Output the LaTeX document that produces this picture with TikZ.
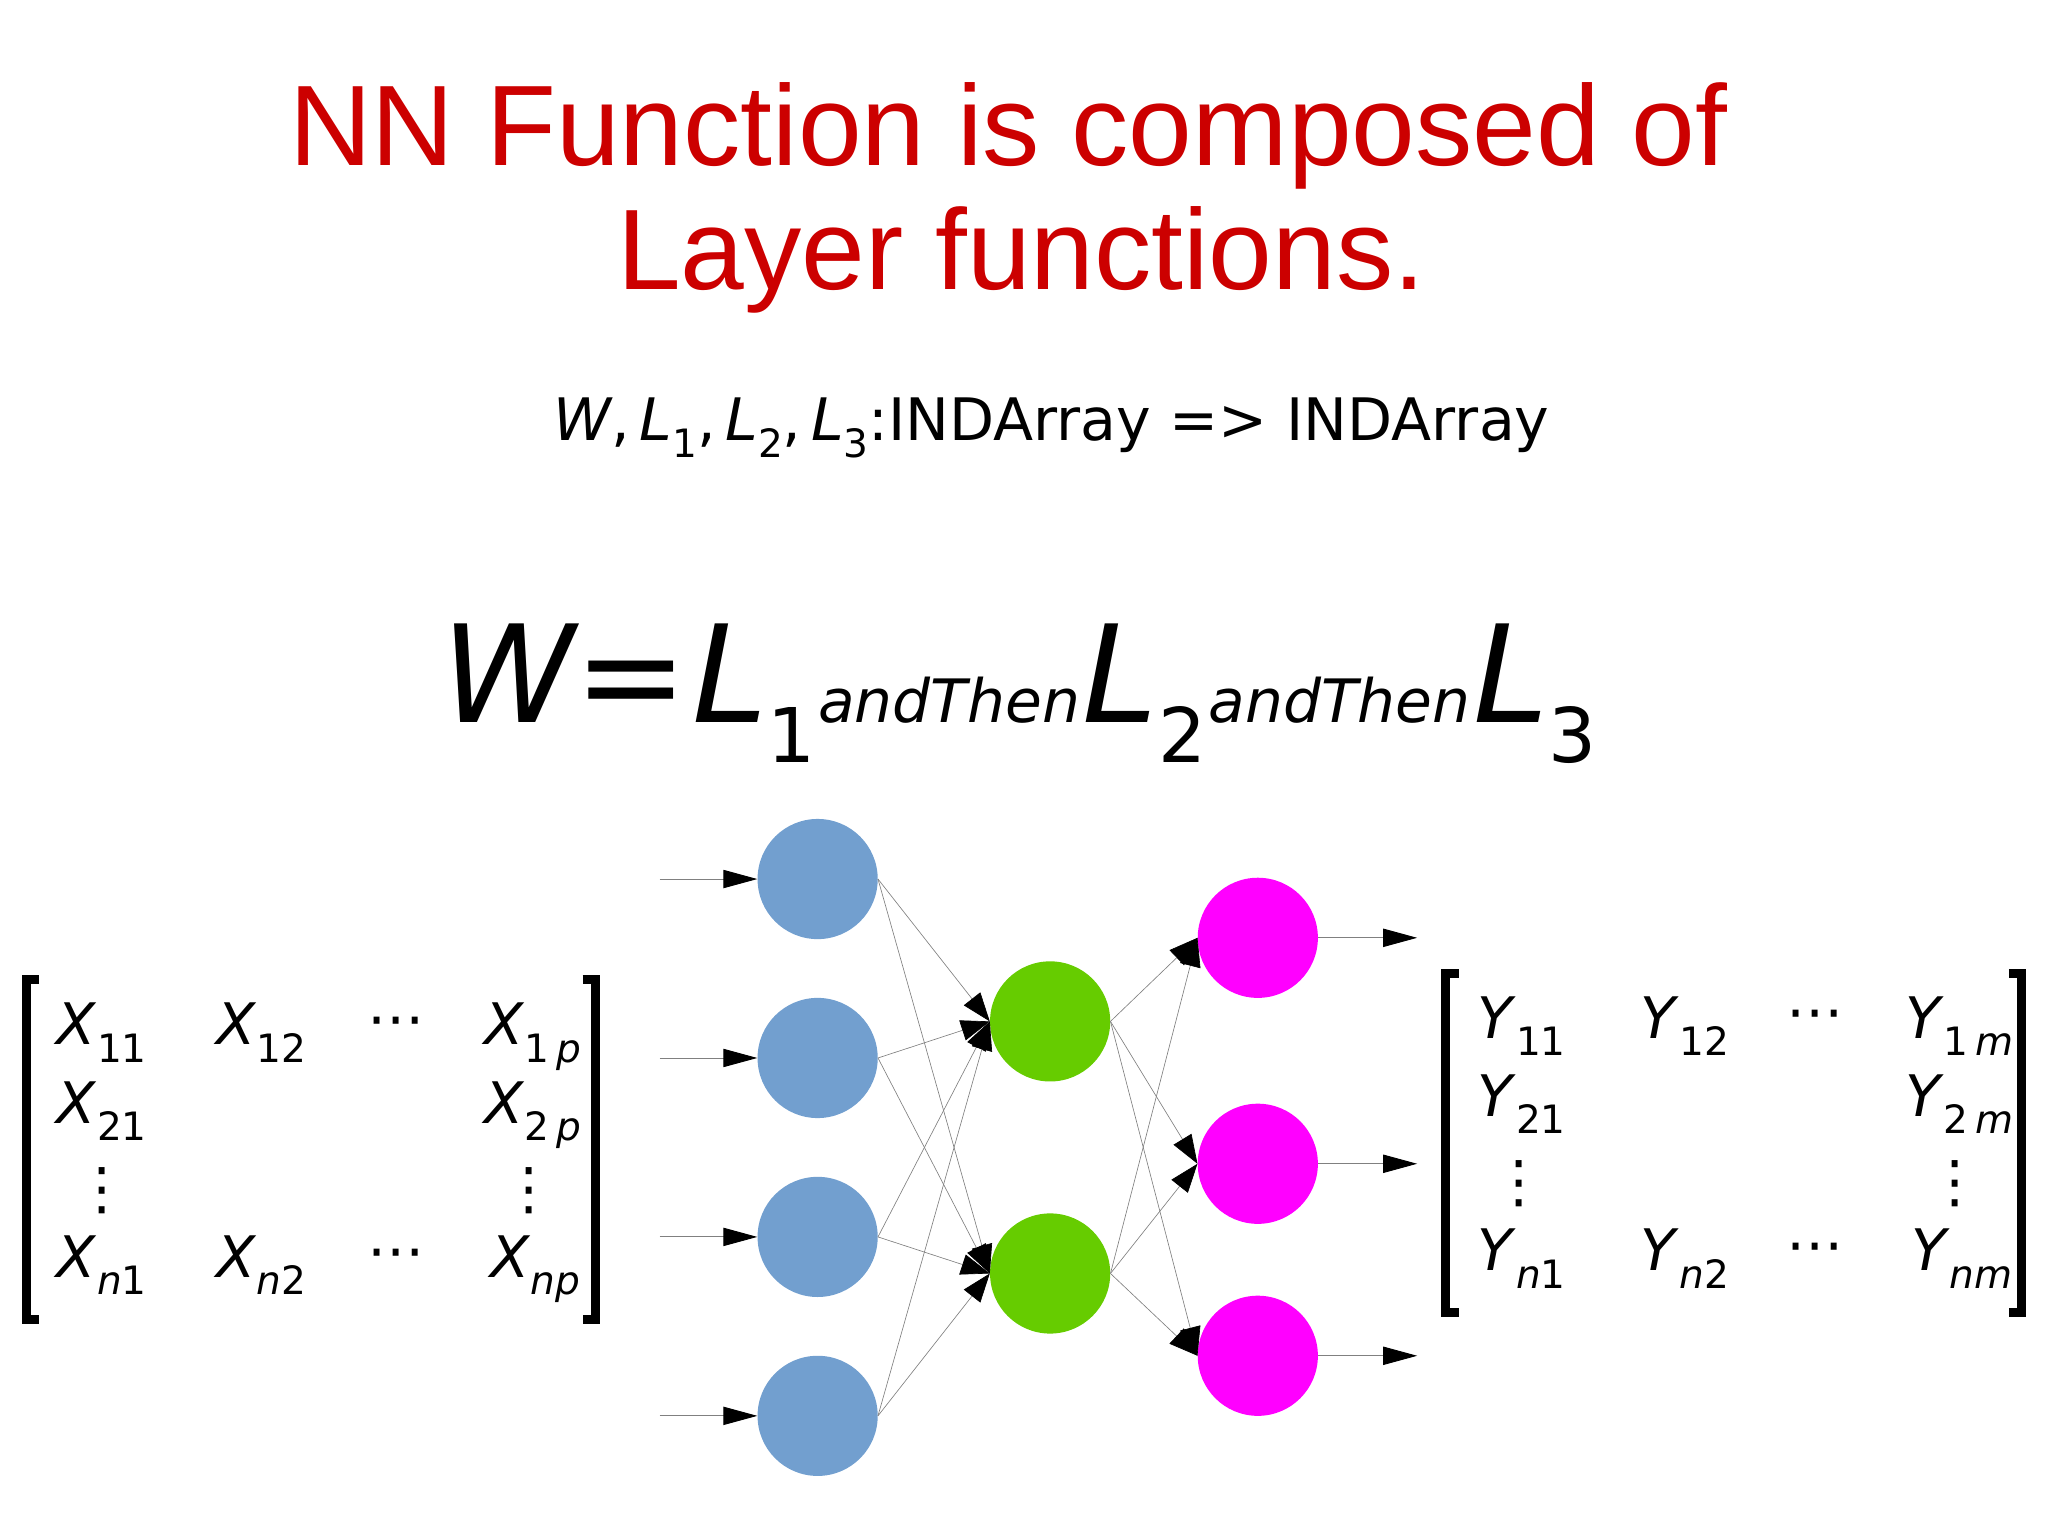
\documentclass[tikz,border=0pt]{standalone}
\usepackage{fontspec}
\setmainfont{Liberation Sans}
\newfontfamily\dv{DejaVu Sans}
\usetikzlibrary{arrows.meta}
\definecolor{tred}{RGB}{204,0,0}
\definecolor{nblue}{RGB}{114,159,207}
\definecolor{ngreen}{RGB}{102,204,0}
\definecolor{nmag}{RGB}{255,0,255}
\newcommand\fs[1]{\fontsize{#1}{#1}\selectfont}
\newcommand\ent[2]{\textit{#1}\raisebox{-0.3em}{\fs{30}#2}}
\begin{document}
\begin{tikzpicture}[x=1bp,y=-1bp,
  neuron/.style={circle,minimum size=92bp,inner sep=0pt},
  link/.style={draw=gray,line width=0.5bp,-{Triangle[length=22bp,width=16bp,color=black]}},
  io/.style={draw=gray,line width=0.7bp,-{Triangle[length=26bp,width=14bp,color=black]}},
  brk/.style={line width=7bp},
  ent/.style={font=\dv\fs{44},anchor=base}]
\useasboundingbox (0,0) rectangle (1568,1175);
\node[text=tred,font=\fs{88}] (t1) at (772,104) {NN Function is composed of};
\node[text=tred,font=\fs{88}] (t2) at (782,199) {Layer functions.};
\node[font=\dv\fs{45},anchor=base] (sub) at (805,337) {\textit{W},\,\textit{L}\raisebox{-0.3em}{\fs{30}1},\,\textit{L}\raisebox{-0.3em}{\fs{30}2},\,\textit{L}\raisebox{-0.3em}{\fs{30}3}:INDArray => INDArray};
\node[font=\dv\fs{104},anchor=base,inner sep=0pt] (eq) at (780,553) {\itshape W=\kern3pt L\raisebox{-0.3em}{\upshape\fs{58}1}\kern2pt{\fs{46}andThen}\kern2pt L\raisebox{-0.3em}{\upshape\fs{58}2}\kern2pt{\fs{46}andThen}\kern2pt L\raisebox{-0.3em}{\upshape\fs{58}3}};
% neurons
\foreach \i/\y in {1/673,2/810,3/947,4/1084}{
  \node[neuron,fill=nblue] (b\i) at (626,\y) {};
  \coordinate (in\i) at (505,\y);
  \draw[io] (in\i) -- (b\i);}
\foreach \i/\y in {1/782,2/975}{\node[neuron,fill=ngreen] (g\i) at (804,\y) {};}
\foreach \i/\y in {1/718,2/891,3/1038}{
  \node[neuron,fill=nmag] (m\i) at (963,\y) {};
  \coordinate (out\i) at (1085,\y);
  \draw[io] (m\i) -- (out\i);}
\foreach \i in {1,...,4}{\foreach \j in {1,2}{\draw[link] (b\i.east) -- (g\j.west);}}
\foreach \i in {1,2}{\foreach \j in {1,2,3}{\draw[link] (g\i.east) -- (m\j.west);}}
% left matrix
\draw[brk] (30,750) -- (20,750) -- (20,1010) -- (30,1010);
\draw[brk] (446,750) -- (456,750) -- (456,1010) -- (446,1010);
\node[ent] (x11) at (78,800) {\ent{X}{11}};
\node[ent] (x12) at (200,800) {\ent{X}{12}};
\node[ent] (x13) at (303,795) {⋯};
\node[ent] (x1p) at (408,800) {\ent{X}{1\,\textit{p}}};
\node[ent] (x21) at (78,860) {\ent{X}{21}};
\node[ent] (x2p) at (408,860) {\ent{X}{2\,\textit{p}}};
\node[ent] (x31) at (78,925) {⋮};
\node[ent] (x3p) at (405,925) {⋮};
\node[ent] (xn1) at (78,978) {\ent{X}{\textit{n}1}};
\node[ent] (xn2) at (200,978) {\ent{X}{\textit{n}2}};
\node[ent] (xn3) at (303,973) {⋯};
\node[ent] (xnp) at (410,978) {\ent{X}{\textit{np}}};
% right matrix
\draw[brk] (1117,745) -- (1107,745) -- (1107,1005) -- (1117,1005);
\draw[brk] (1538,745) -- (1548,745) -- (1548,1005) -- (1538,1005);
\node[ent] (y11) at (1165,795) {\ent{Y}{11}};
\node[ent] (y12) at (1290,795) {\ent{Y}{12}};
\node[ent] (y13) at (1390,790) {⋯};
\node[ent] (y1m) at (1500,795) {\ent{Y}{1\,\textit{m}}};
\node[ent] (y21) at (1165,855) {\ent{Y}{21}};
\node[ent] (y2m) at (1500,855) {\ent{Y}{2\,\textit{m}}};
\node[ent] (y31) at (1163,920) {⋮};
\node[ent] (y3m) at (1497,920) {⋮};
\node[ent] (yn1) at (1165,973) {\ent{Y}{\textit{n}1}};
\node[ent] (yn2) at (1290,973) {\ent{Y}{\textit{n}2}};
\node[ent] (yn3) at (1390,968) {⋯};
\node[ent] (ynm) at (1502,973) {\ent{Y}{\textit{nm}}};
\end{tikzpicture}
\end{document}
